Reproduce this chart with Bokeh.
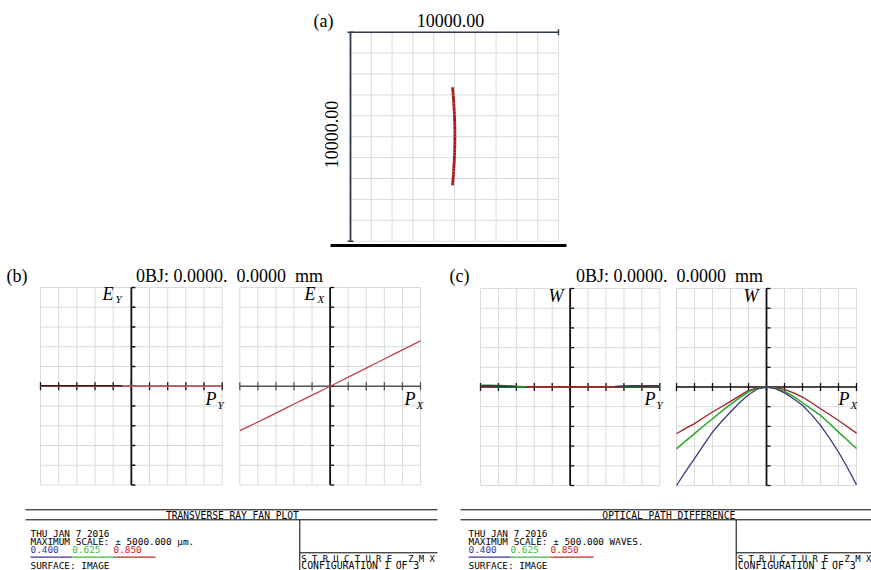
import math
from bokeh.plotting import figure
from bokeh.models import Range1d
from bokeh.core.properties import value
from bokeh.embed import file_html
from bokeh.resources import INLINE

W, H = 871, 570

# ---------------- data ----------------
# (a) spot diagram (micrometres), box is 10000.00 wide
SPOT_X = [-90, -78, -66, -56, -46, -38, -30, -22, -14, -8, -2, 3, 8, 12, 15, 17, 18, 18,
          18, 17, 16, 14, 11, 7, 3, -2, -8, -14, -22, -30, -38, -46, -56, -66, -78, -90]
SPOT_Y = [2300, 2170, 2040, 1910, 1780, 1650, 1520, 1390, 1260, 1130, 1000, 870, 740, 610,
          480, 350, 220, 90, -40, -170, -300, -430, -560, -690, -820, -950, -1080, -1210,
          -1340, -1470, -1600, -1730, -1860, -1990, -2120, -2250]
SPOT_TICKS = [-5000, -4000, -3000, -2000, -1000, 0, 1000, 2000, 3000, 4000, 5000]

# pupil coordinate for ray fans / OPD fans
PUPIL = [-1.0, -0.9, -0.8, -0.7, -0.6, -0.5, -0.4, -0.3, -0.2, -0.1, 0.0,
         0.1, 0.2, 0.3, 0.4, 0.5, 0.6, 0.7, 0.8, 0.9, 1.0]
PUPIL_TICKS = [-1.0, -0.8, -0.6, -0.4, -0.2, 0.0, 0.2, 0.4, 0.6, 0.8, 1.0]
RAY_TICKS = [-5000, -4000, -3000, -2000, -1000, 0, 1000, 2000, 3000, 4000, 5000]   # µm
OPD_TICKS = [-500, -400, -300, -200, -100, 0, 100, 200, 300, 400, 500]             # waves

NAN = float("nan")
# (b) transverse ray fan, µm
EY_DARK = [30, 30, 30, 30, 30, 30, 30, 30, 30, 30, NAN, NAN, NAN, NAN, NAN, NAN, NAN, NAN, NAN, NAN, NAN]
EY_RED = [0, 0, 0, 0, 0, 0, 0, 0, 0, 0, 0, 0, 0, 0, 0, 0, 0, 0, 0, 0, 0]
EX_RED = [-2250, -2030, -1810, -1590, -1360, -1130, -900, -680, -450, -230, 0,
          230, 460, 690, 920, 1150, 1380, 1610, 1840, 2070, 2300]

# (c) optical path difference, waves
WY_RED = [0, 0, 0, 0, 0, 0, 0, 0, 0, 0, 0, 0, 0, 0, 0, 0, 0, 0, 0, 0, 0]
WY_GREEN = [9, 9, 8, 6, 4, 2, NAN, NAN, NAN, NAN, NAN, NAN, NAN, NAN, NAN, NAN, 3, 6, 7, 7, 7]
WY_BLUE = [6, 6, 5, 4, 3, NAN, NAN, NAN, NAN, NAN, NAN, NAN, NAN, NAN, NAN, 3, 5, 5, 5, 5, 5]
WX_RED = [-237, -210, -186, -156, -127, -100, -73, -45, -17, -5, 0,
          -3, -12, -30, -51, -80, -110, -140, -170, -202, -234]
WX_GREEN = [-314, -275, -237, -198, -161, -124, -88, -55, -25, -7, 0,
            -6, -22, -48, -80, -112, -144, -185, -229, -270, -312]
WX_BLUE = [-500, -430, -364, -295, -229, -175, -127, -80, -39, -10, 0,
           -8, -30, -60, -93, -140, -195, -260, -330, -410, -497]

WAVELENGTHS = ["0.400", "0.625", "0.850"]
WL_COLORS = ["#36369a", "#3cb83c", "#d02020"]

TITLE_OBJ = "0BJ: 0.0000.\u00a0\u00a00.0000\u00a0\u00a0mm"
SCALE_LABEL = "10000.00"
FOOT_DATE = "THU JAN 7 2016"
FOOT_SCALE_B = "MAXIMUM SCALE: \u00b1 5000.000 \u00b5m."
FOOT_SCALE_C = "MAXIMUM SCALE: \u00b1 500.000 WAVES."
FOOT_SURF = "SURFACE: IMAGE"
FOOT_FILE = "S T R U C T U R E . Z M X"
FOOT_CONF = "CONFIGURATION 1 OF 3"
FOOT_TITLE_B = "TRANSVERSE RAY FAN PLOT"
FOOT_TITLE_C = "OPTICAL PATH DIFFERENCE"

# ---------------- layout (canvas pixels) ----------------
PANELS = {
    "a":  ((350.0, 558.0, 31.7, 240.7), (-5000, 5000), (-5000, 5000)),
    "b1": ((40.0, 221.7, 287.0, 484.5), (-1, 1), (-5000, 5000)),
    "b2": ((239.3, 420.0, 287.0, 484.5), (-1, 1), (-5000, 5000)),
    "c1": ((480.0, 659.3, 288.0, 485.0), (-1, 1), (-500, 500)),
    "c2": ((676.0, 856.0, 288.0, 485.0), (-1, 1), (-500, 500)),
}

SERIF = "Liberation Serif"
MONO = "DejaVu Sans Mono"
GRID = "#dadada"

p = figure(width=W, height=H, x_range=Range1d(0, W), y_range=Range1d(H, 0),
           output_backend="svg", toolbar_location=None, min_border=0,
           x_axis_location=None, y_axis_location=None, outline_line_color=None,
           background_fill_color="white", border_fill_color="white")
p.xgrid.visible = False
p.ygrid.visible = False

xr, yr = {}, {}
for name, ((l, r, t, b), (x0, x1), (y0, y1)) in PANELS.items():
    sx = (x1 - x0) / (r - l)
    sy = (y1 - y0) / (b - t)
    xr[name] = Range1d(x0 - l * sx, x0 + (W - l) * sx)
    yr[name] = Range1d(y0 + (b - H) * sy, y0 + b * sy)
p.extra_x_ranges = xr
p.extra_y_ranges = yr


def px_to_data(name, dpx):
    (l, r, t, b), (x0, x1), (y0, y1) = PANELS[name]
    return dpx * (x1 - x0) / (r - l), dpx * (y1 - y0) / (b - t)


def kw(name):
    return dict(x_range_name=name, y_range_name=name)


def grid(name, xt, yt):
    p.segment(x0=xt, x1=xt, y0=[yt[0]] * len(xt), y1=[yt[-1]] * len(xt),
              line_color=GRID, line_width=1, **kw(name))
    p.segment(x0=[xt[0]] * len(yt), x1=[xt[-1]] * len(yt), y0=yt, y1=yt,
              line_color=GRID, line_width=1, **kw(name))


def cross_axes(name, xt, yt, hcolor="#111111"):
    dx, dy = px_to_data(name, 4)
    p.segment(x0=[xt[0]], x1=[xt[-1]], y0=[0], y1=[0], line_color=hcolor, line_width=1.6, **kw(name))
    p.segment(x0=[0], x1=[0], y0=[yt[0]], y1=[yt[-1]], line_color="#111111", line_width=1.8, **kw(name))
    p.segment(x0=xt, x1=xt, y0=[-dy] * len(xt), y1=[dy] * len(xt), line_color=hcolor, line_width=1.3, **kw(name))
    p.segment(x0=[0] * len(yt), x1=[dx] * len(yt), y0=yt, y1=yt, line_color="#111111", line_width=1.3, **kw(name))


def label(x, y, s, size, font=SERIF, style="normal", align="left", baseline="middle",
          color="black", angle=0.0):
    p.text(x=[x], y=[y], text=[s], text_font=value(font), text_font_size=value(f"{size}px"),
           text_font_style=style, text_align=align, text_baseline=baseline,
           text_color=color, angle=angle)


# ---------------- (a) spot diagram ----------------
grid("a", SPOT_TICKS, SPOT_TICKS)
adx, ady = px_to_data("a", 3)
AX = "#2f3a48"
p.segment(x0=[SPOT_TICKS[0]], x1=[SPOT_TICKS[0]], y0=[SPOT_TICKS[0]], y1=[SPOT_TICKS[-1]],
          line_color=AX, line_width=1.8, **kw("a"))
p.segment(x0=[SPOT_TICKS[0]], x1=[SPOT_TICKS[-1]], y0=[SPOT_TICKS[-1]], y1=[SPOT_TICKS[-1]],
          line_color=AX, line_width=1.6, **kw("a"))
p.segment(x0=[SPOT_TICKS[0] - adx, SPOT_TICKS[0] - adx], x1=[SPOT_TICKS[0] + adx, SPOT_TICKS[0] + adx],
          y0=[SPOT_TICKS[0], SPOT_TICKS[-1]], y1=[SPOT_TICKS[0], SPOT_TICKS[-1]],
          line_color=AX, line_width=1.4, **kw("a"))
p.segment(x0=[SPOT_TICKS[-1]], x1=[SPOT_TICKS[-1]], y0=[SPOT_TICKS[-1] - ady], y1=[SPOT_TICKS[-1] + ady],
          line_color=AX, line_width=1.4, **kw("a"))
p.scatter(x=SPOT_X, y=SPOT_Y, marker="square", size=2.8, fill_color="#a81a1e",
          line_color=None, **kw("a"))
p.segment(x0=[330], x1=[566], y0=[245], y1=[245], line_color="black", line_width=3)
label(313, 20, "(a)", 18)
label(450, 20, SCALE_LABEL, 18, align="center")
label(331, 134, SCALE_LABEL, 18, align="center", angle=math.pi / 2)

# ---------------- (b) transverse ray fan ----------------
for name in ("b1", "b2"):
    grid(name, PUPIL_TICKS, RAY_TICKS)
cross_axes("b1", PUPIL_TICKS, RAY_TICKS)
cross_axes("b2", PUPIL_TICKS, RAY_TICKS, hcolor="#555555")
p.line(x=PUPIL, y=EY_RED, line_color="#c85a5a", line_width=1.5, **kw("b1"))
p.line(x=PUPIL, y=EY_DARK, line_color="#3a1c1c", line_width=1.5, **kw("b1"))
p.line(x=PUPIL, y=EX_RED, line_color="#c2444a", line_width=1.3, **kw("b2"))

label(6, 275, "(b)", 18)
label(229, 275, TITLE_OBJ, 18, align="center")
# axis symbols
label(102, 293, "E", 18, style="italic")
label(115, 298, "Y", 11, style="italic")
label(205, 398, "P", 18, style="italic")
label(217, 404, "Y", 11, style="italic")
label(304, 293, "E", 18, style="italic")
label(317, 298, "X", 11, style="italic")
label(404, 398, "P", 18, style="italic")
label(416, 404, "X", 11, style="italic")

# ---------------- (c) optical path difference ----------------
for name in ("c1", "c2"):
    grid(name, PUPIL_TICKS, OPD_TICKS)
cross_axes("c1", PUPIL_TICKS, OPD_TICKS)
cross_axes("c2", PUPIL_TICKS, OPD_TICKS)
p.line(x=PUPIL, y=WY_RED, line_color="#b02a2a", line_width=1.4, **kw("c1"))
p.line(x=PUPIL, y=WY_GREEN, line_color="#2aa02a", line_width=1.4, **kw("c1"))
p.line(x=PUPIL, y=WY_BLUE, line_color="#1e3a4a", line_width=1.4, **kw("c1"))
p.line(x=PUPIL, y=WX_RED, line_color="#9e1f2a", line_width=1.3, **kw("c2"))
p.line(x=PUPIL, y=WX_GREEN, line_color="#22aa22", line_width=1.5, **kw("c2"))
p.line(x=PUPIL, y=WX_BLUE, line_color="#3b3b7e", line_width=1.3, **kw("c2"))

label(449, 275, "(c)", 18)
label(669, 275, TITLE_OBJ, 18, align="center")
label(548, 295, "W", 18, style="italic")
label(644, 398, "P", 18, style="italic")
label(656, 404, "Y", 11, style="italic")
label(743, 295, "W", 18, style="italic")
label(838, 398, "P", 18, style="italic")
label(850, 404, "X", 11, style="italic")


# ---------------- footers ----------------
def footer(x_left, x_right, x_div, x_text, title, scale_text, ul_edges):
    p.segment(x0=[x_left, x_left], x1=[x_right, x_right], y0=[509.3, 519.3], y1=[509.3, 519.3],
              line_color="black", line_width=1)
    p.segment(x0=[x_div, x_div], x1=[x_div, x_right], y0=[519.3, 552.3], y1=[H, 552.3],
              line_color="black", line_width=1)
    label(x_div - 1, 514.5, title, 9.6, font=MONO, align="right")
    label(x_text, 533, FOOT_DATE, 9.4, font=MONO)
    label(x_text, 540.5, scale_text, 9.4, font=MONO)
    for i, (wl, c) in enumerate(zip(WAVELENGTHS, WL_COLORS)):
        label(ul_edges[i], 548.5, wl, 9.4, font=MONO, color=c)
    p.segment(x0=ul_edges[:-1], x1=ul_edges[1:], y0=[556.7] * 3, y1=[556.7] * 3,
              line_color=WL_COLORS, line_width=1.3)
    label(x_text, 564.5, FOOT_SURF, 9.4, font=MONO)
    label(x_div + 1.5, 558, FOOT_FILE, 8.9, font=MONO)
    label(x_div + 1.5, 565, FOOT_CONF, 9.8, font=MONO)


footer(25, 437, 299.3, 30, FOOT_TITLE_B, FOOT_SCALE_B, [30, 71.7, 113, 155])
footer(460, 871, 735.7, 468, FOOT_TITLE_C, FOOT_SCALE_C, [468, 510, 550, 593])

open("out.html", "w").write(file_html(p, INLINE))
